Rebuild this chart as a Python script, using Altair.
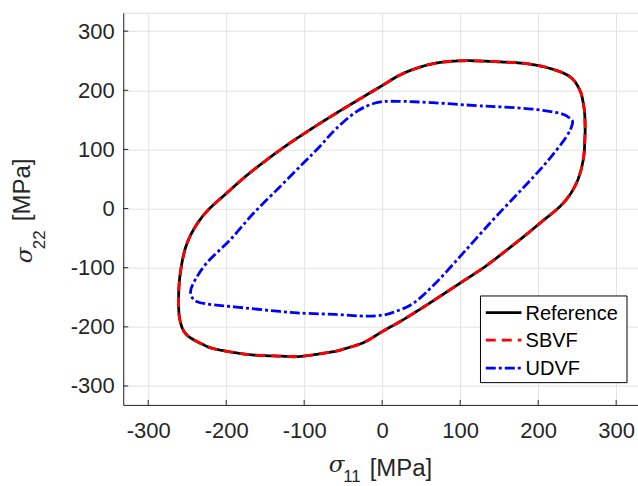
import altair as alt
import pandas as pd

# ---------------- data ----------------
series_names = ["Reference", "SBVF", "UDVF"]
series_colors = ["#000000", "#ff0000", "#0000ff"]
series_dashes = [[1, 0], [10, 6], [10, 3, 3, 3]]

ref_x = [202, 232, 249, 257.7, 260, 260, 258.6, 253.5, 240.6, 215, 185, 151, 108, 74, 48, 23, 0, -24, -63, -101,
         -131, -170, -199.5, -225, -242, -253, -259.4, -261, -259.4, -251, -229.5, -212, -170, -130, -105,
         -63, -48, -23, 0, 23, 44, 63, 100, 131, 155, 179]
ref_y = [-25, 9, 43, 82, 122, 150, 172, 200, 223, 237, 245, 248, 250, 247, 239, 226, 208, 189, 158, 126,
         99, 60, 26, -5, -36, -70, -115, -154, -188, -213, -230, -238, -247, -249.5, -250,
         -242, -237, -226, -208, -191, -174, -158, -126, -99, -75, -50]

sbvf_x = [202, 232, 249, 257.7, 260, 260, 258.6, 253.5, 240.6, 215, 185, 151, 108, 74, 48, 23, 0, -24, -63, -101,
          -131, -170, -199.5, -225, -242, -253, -259.4, -261, -259.4, -251, -229.5, -212, -170, -130, -105,
          -63, -48, -23, 0, 23, 44, 63, 100, 131, 155, 179]
sbvf_y = [-25, 9, 43, 82, 122, 150, 172, 200, 223, 237, 245, 248, 250, 247, 239, 226, 208, 189, 158, 126,
          99, 60, 26, -5, -36, -70, -115, -154, -188, -213, -230, -238, -247, -249.5, -250,
          -242, -237, -226, -208, -191, -174, -158, -126, -99, -75, -50]

udvf_x = [244, 240.6, 228, 193.6, 151, 121, 65, 18.5, -7, -33, -60.6, -80, -101, -131, -165, -195, -225,
          -242, -245.6, -238, -216.7, -186.7, -131, -105.5, -60, -20, 1, 14, 40, 70, 104, 140, 170,
          195, 215, 236]
udvf_y = [144, 152.7, 161, 168, 172, 174, 179, 181.4, 179, 164, 133, 105, 77, 37, -8, -53, -92,
          -126, -143, -157, -162.7, -166.6, -174, -176.7, -179, -182, -180, -175.6, -160, -124, -75, -22, 20,
          55, 85, 121]

tick_values = [-300, -200, -100, 0, 100, 200, 300]

# ---------------- layout ----------------
W, H = 515, 392.3
FONT = "Liberation Sans"
AX_COLOR = "#262626"

xscale = alt.Scale(domain=[-332, 328], nice=False, zero=False)
yscale = alt.Scale(domain=[-332, 331], nice=False, zero=False)
label_expr = "datum.value < 0 ? '-' + abs(datum.value) : '' + datum.value"
xaxis = alt.Axis(values=tick_values, title=None, grid=True, ticks=False, labelExpr=label_expr,
                 labelPadding=16, labelFontSize=22, labelFont=FONT, labelColor=AX_COLOR,
                 domainColor=AX_COLOR, gridColor="#e3e3e3", labelFlush=False)
yaxis = alt.Axis(values=tick_values, title=None, grid=True, ticks=False, labelExpr=label_expr,
                 labelPadding=9, labelFontSize=22, labelFont=FONT, labelColor=AX_COLOR,
                 domainColor=AX_COLOR, gridColor="#e3e3e3", labelFlush=False)


def curve(xs, ys, color, dash):
    df = pd.DataFrame({"x": xs, "y": ys, "i": list(range(len(xs)))})
    return alt.Chart(df).mark_line(
        color=color, strokeDash=dash, strokeWidth=2.8, interpolate="cardinal-closed", clip=True
    ).encode(
        x=alt.X("x:Q", scale=xscale, axis=xaxis),
        y=alt.Y("y:Q", scale=yscale, axis=yaxis),
        order="i:O",
    )


curves = [
    curve(ref_x, ref_y, series_colors[0], series_dashes[0]),
    curve(sbvf_x, sbvf_y, series_colors[1], series_dashes[1]),
    curve(udvf_x, udvf_y, series_colors[2], series_dashes[2]),
]

# inward tick marks
xt = alt.Chart(pd.DataFrame({"x": tick_values})).mark_rule(color=AX_COLOR, strokeWidth=1).encode(
    x=alt.X("x:Q", scale=xscale, axis=xaxis), y=alt.value(H), y2=alt.value(H - 5))
yt = alt.Chart(pd.DataFrame({"y": tick_values})).mark_rule(color=AX_COLOR, strokeWidth=1).encode(
    y=alt.Y("y:Q", scale=yscale, axis=yaxis), x=alt.value(0), x2=alt.value(5))

one = pd.DataFrame({"a": [0]})


def txt(text, x, y, size=20, style="normal", font=FONT, angle=0):
    return alt.Chart(one).mark_text(
        text=text, font=font, fontSize=size, fontStyle=style, align="left",
        baseline="alphabetic", color=AX_COLOR, angle=angle
    ).encode(x=alt.value(x), y=alt.value(y))


# axis titles (sigma with subscripts)
titles = [
    txt("σ", 205.5, 459, 23, "italic", "DejaVu Serif"),
    txt("11", 220, 469.5, 17),
    txt("[MPa]", 246.5, 463, 24),
    txt("σ", -91.6, 250.5, 23, "italic", "DejaVu Serif", 270),
    txt("22", -78.3, 236.5, 17, angle=270),
    txt("[MPa]", -93.3, 208.5, 24, angle=270),
]

# legend
leg_box = alt.Chart(one).mark_rect(fill="white", stroke="black", strokeWidth=1).encode(
    x=alt.value(357.4), x2=alt.value(504), y=alt.value(283.3), y2=alt.value(370))
leg_rows_y = [300, 327.5, 355.5]
leg = [leg_box]
for name, col, dash, ry in zip(series_names, series_colors, series_dashes, leg_rows_y):
    leg.append(alt.Chart(one).mark_rule(color=col, strokeDash=dash, strokeWidth=2.8).encode(
        x=alt.value(362.7), x2=alt.value(398.4), y=alt.value(ry)))
    leg.append(alt.Chart(one).mark_text(text=name, font=FONT, fontSize=20, align="left",
                                        baseline="middle", color="black").encode(
        x=alt.value(402.5), y=alt.value(ry + 1)))

chart = alt.layer(xt, yt, *curves, *titles, *leg).properties(
    width=W, height=H, autosize="none",
    padding={"left": 123.3, "top": 12.7, "right": 0, "bottom": 81},
).configure_view(stroke=None).configure(background="white")

chart.save("out.html", embed_options={"renderer": "svg", "actions": False})
